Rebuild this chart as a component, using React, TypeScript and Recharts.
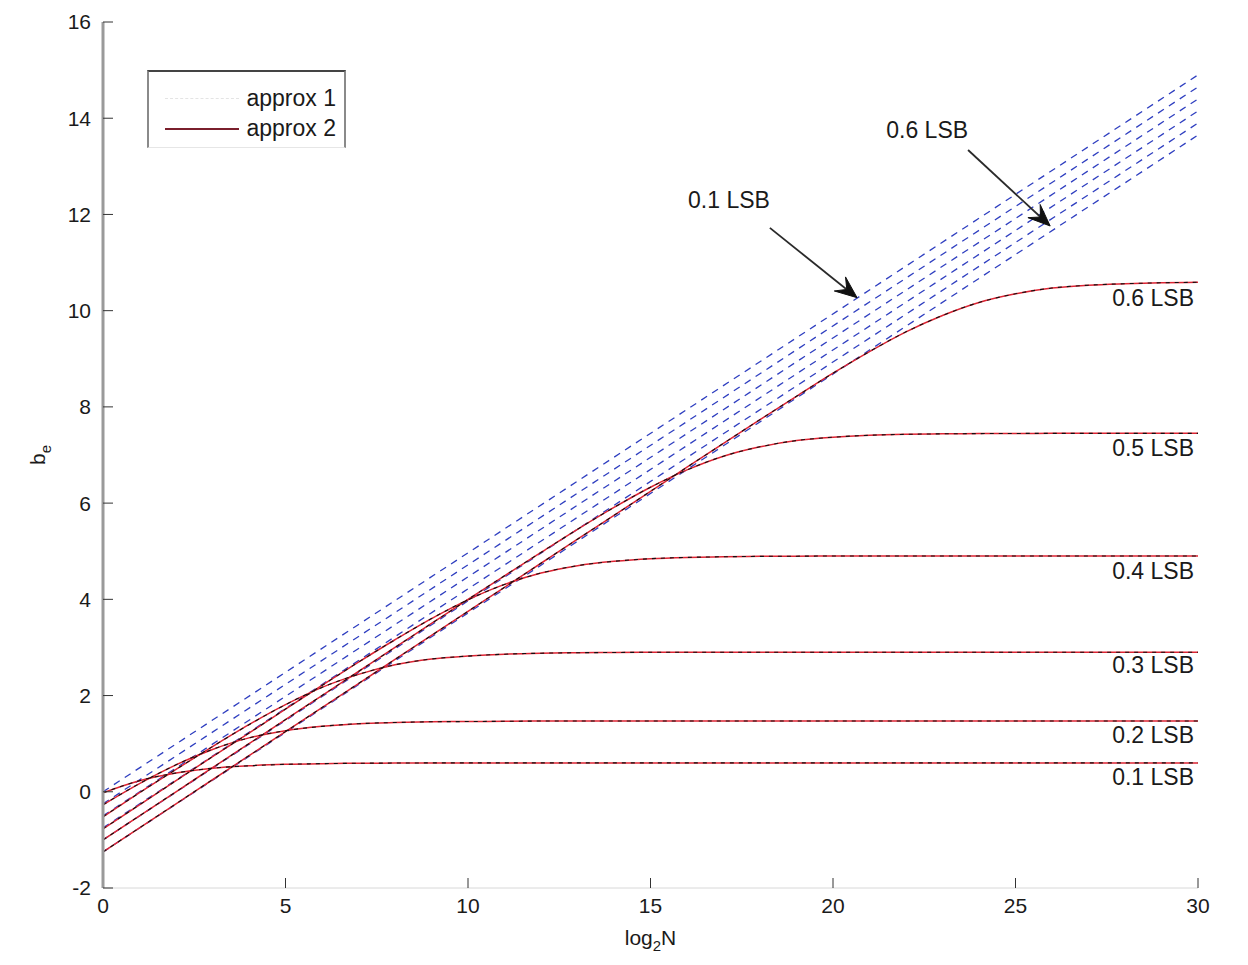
import React from 'react';
import { LineChart, Line, XAxis, YAxis, ReferenceDot, ReferenceLine, Legend } from 'recharts';

const FONT = '"Liberation Sans", Arial, Helvetica, sans-serif';

// log2 N sample points
const xValues = [0, 1, 2, 3, 4, 5, 6, 7, 8, 9, 10, 11, 12, 13, 14, 15, 16, 17, 18, 19, 20, 21, 22, 23, 24, 25, 26, 27, 28, 29, 30];

// b_e curves, one per noise level (0.1 ... 0.6 LSB)
const curve01 = [-0.02, 0.23, 0.39, 0.49, 0.54, 0.57, 0.585, 0.593, 0.597, 0.6, 0.6, 0.6, 0.6, 0.6, 0.6, 0.6, 0.6, 0.6, 0.6, 0.6, 0.6, 0.6, 0.6, 0.6, 0.6, 0.6, 0.6, 0.6, 0.6, 0.6, 0.6];
const curve02 = [-0.27, 0.17, 0.56, 0.88, 1.12, 1.27, 1.36, 1.415, 1.44, 1.455, 1.46, 1.465, 1.47, 1.47, 1.47, 1.47, 1.47, 1.47, 1.47, 1.47, 1.47, 1.47, 1.47, 1.47, 1.47, 1.47, 1.47, 1.47, 1.47, 1.47, 1.47];
const curve03 = [-0.52, -0.02, 0.465, 0.94, 1.395, 1.81, 2.17, 2.44, 2.64, 2.76, 2.82, 2.86, 2.88, 2.89, 2.895, 2.9, 2.9, 2.9, 2.9, 2.9, 2.9, 2.9, 2.9, 2.9, 2.9, 2.9, 2.9, 2.9, 2.9, 2.9, 2.9];
const curve04 = [-0.77, -0.27, 0.23, 0.73, 1.22, 1.72, 2.21, 2.695, 3.16, 3.6, 3.99, 4.31, 4.546, 4.7, 4.79, 4.845, 4.872, 4.885, 4.893, 4.897, 4.9, 4.9, 4.9, 4.9, 4.9, 4.9, 4.9, 4.9, 4.9, 4.9, 4.9];
const curve05 = [-1.0, -0.5, 0.0, 0.5, 1.0, 1.5, 2.0, 2.5, 3.0, 3.498, 3.997, 4.49, 4.975, 5.455, 5.91, 6.33, 6.69, 6.975, 7.17, 7.3, 7.37, 7.41, 7.43, 7.44, 7.445, 7.448, 7.45, 7.45, 7.45, 7.45, 7.45];
const curve06 = [-1.25, -0.75, -0.25, 0.25, 0.75, 1.25, 1.75, 2.25, 2.75, 3.25, 3.75, 4.25, 4.75, 5.25, 5.745, 6.245, 6.746, 7.243, 7.736, 8.22, 8.7, 9.15, 9.56, 9.9, 10.17, 10.35, 10.47, 10.53, 10.56, 10.58, 10.59];

// blue dashed straight lines (values at log2N = 0 and 30)
const blueX = [0, 30];
const blueStart = [0.0, -0.25, -0.5, -0.75, -1.0, -1.25];
const blueEnd = [14.9, 14.65, 14.4, 14.15, 13.9, 13.65];

const sigmaLabels = ['0.1 LSB', '0.2 LSB', '0.3 LSB', '0.4 LSB', '0.5 LSB', '0.6 LSB'];
const rightLabelX = 28.77;
const rightLabelY = [0.31, 1.18, 2.64, 4.59, 7.15, 10.27];

const arrowText = ['0.1 LSB', '0.6 LSB'];
const arrowTextX = [17.15, 22.58];
const arrowTextY = [12.3, 13.76];
const arrowFromX = [18.27, 23.7];
const arrowFromY = [11.72, 13.34];
const arrowToX = [20.66, 25.95];
const arrowToY = [10.27, 11.76];

const xTicks = [0, 5, 10, 15, 20, 25, 30];
const yTicks = [-2, 0, 2, 4, 6, 8, 10, 12, 14, 16];
const legendNames = ['approx 1', 'approx 2'];

const curves = [curve01, curve02, curve03, curve04, curve05, curve06];
const curveData = curves.map((c) => xValues.map((x, j) => ({ x, y: c[j] })));
const blueData = blueStart.map((s, i) => [
  { x: blueX[0], y: s },
  { x: blueX[1], y: blueEnd[i] },
]);

const RED = '#de2433';
const BLUE = '#2f3fc0';
const TEXT = '#1a1a1a';

const Arrow = (props: any) => {
  const { x1, y1, x2, y2 } = props;
  if ([x1, y1, x2, y2].some((v) => typeof v !== 'number' || isNaN(v))) return null;
  const dx = x2 - x1;
  const dy = y2 - y1;
  const len = Math.sqrt(dx * dx + dy * dy) || 1;
  const ux = dx / len;
  const uy = dy / len;
  const px = -uy;
  const py = ux;
  const L = 22;
  const W = 9;
  const bx = x2 - ux * L;
  const by = y2 - uy * L;
  const nx = x2 - ux * L * 0.6;
  const ny = y2 - uy * L * 0.6;
  const pts = `${x2},${y2} ${bx + px * W},${by + py * W} ${nx},${ny} ${bx - px * W},${by - py * W}`;
  return (
    <g>
      <line x1={x1} y1={y1} x2={nx} y2={ny} stroke="#2a2a2a" strokeWidth={1.8} />
      <polygon points={pts} fill="#111" stroke="#111" strokeWidth={1} />
    </g>
  );
};

const LegendBox = () => (
  <div
    style={{
      width: 199,
      height: 78,
      boxSizing: 'border-box',
      borderTop: '2px solid #444',
      borderLeft: '2px solid #8a8a8a',
      borderRight: '2px solid #8a8a8a',
      borderBottom: '1px solid #e6e6e6',
      background: '#fff',
      position: 'relative',
      fontFamily: FONT,
      fontSize: 23,
      color: TEXT,
    }}
  >
    <div style={{ position: 'absolute', left: 16, top: 26, width: 74, borderTop: '1px dashed #e4e4e4' }} />
    <div style={{ position: 'absolute', right: 8, top: 13, lineHeight: '26px' }}>{legendNames[0]}</div>
    <div style={{ position: 'absolute', left: 16, top: 56, width: 74, borderTop: '2px solid #7a1f2c' }} />
    <div style={{ position: 'absolute', right: 8, top: 43, lineHeight: '26px' }}>{legendNames[1]}</div>
  </div>
);

const YLabel = (props: any) => {
  const vb = props.viewBox || {};
  const cx = (vb.x ?? 35) + 2;
  const cy = (vb.y ?? 14) + (vb.height ?? 866) / 2;
  return (
    <text
      x={cx}
      y={cy}
      transform={`rotate(-90 ${cx} ${cy})`}
      textAnchor="middle"
      fontFamily={FONT}
      fontSize={21}
      fill={TEXT}
    >
      b<tspan dy={6} fontSize={15}>e</tspan>
    </text>
  );
};

const XLabel = (props: any) => {
  const vb = props.viewBox || {};
  const cx = (vb.x ?? 95) + (vb.width ?? 1095) / 2;
  const cy = (vb.y ?? 880) + 57;
  return (
    <text x={cx} y={cy} textAnchor="middle" fontFamily={FONT} fontSize={21} fill={TEXT}>
      log<tspan dy={6} fontSize={15}>2</tspan>
      <tspan dy={-6}>N</tspan>
    </text>
  );
};

export default function App() {
  const tickStyle = { fontFamily: FONT, fontSize: 21, fill: TEXT };
  const labelText = (t: string) => (p: any) => (
    <text x={p.cx} y={p.cy} textAnchor="middle" dominantBaseline="central" fontFamily={FONT} fontSize={23} fill={TEXT}>
      {t}
    </text>
  );
  return (
    <div style={{ width: 1232, height: 952, background: '#fff' }}>
      <LineChart width={1232} height={952} margin={{ top: 14, right: 42, bottom: 0, left: 35 }}>
        <XAxis
          xAxisId="b"
          dataKey="x"
          type="number"
          domain={[0, 30]}
          ticks={xTicks}
          orientation="bottom"
          height={72}
          tickSize={-10}
          tickMargin={20}
          axisLine={{ stroke: '#d8d8d8', strokeWidth: 1 }}
          tickLine={{ stroke: '#333' }}
          tick={tickStyle}
          allowDataOverflow
          label={<XLabel />}
        />
        <XAxis
          xAxisId="t"
          dataKey="x"
          type="number"
          domain={[0, 30]}
          ticks={xTicks}
          orientation="top"
          height={0}
          tickSize={-10}
          tick={false}
          axisLine={{ stroke: '#cfcfcf', strokeWidth: 1 }}
          tickLine={{ stroke: '#333' }}
        />
        <YAxis
          yAxisId="l"
          type="number"
          domain={[-2, 16]}
          ticks={yTicks}
          orientation="left"
          width={60}
          tickSize={-10}
          tickMargin={22}
          axisLine={{ stroke: '#9a9a9a', strokeWidth: 3 }}
          tickLine={{ stroke: '#333' }}
          tick={tickStyle}
          allowDataOverflow
          label={<YLabel />}
        />
        <YAxis
          yAxisId="r"
          type="number"
          domain={[-2, 16]}
          ticks={yTicks}
          orientation="right"
          width={0}
          tickSize={-10}
          tick={false}
          axisLine={{ stroke: '#9a9a9a', strokeWidth: 3 }}
          tickLine={{ stroke: '#333' }}
        />
        <Legend
          layout="vertical"
          align="center"
          verticalAlign="middle"
          wrapperStyle={{ position: 'absolute', left: 139, top: 62, width: 199, height: 78 }}
          content={() => <LegendBox />}
        />
        {blueData.map((d, i) => (
          <Line
            key={`blue${i}`}
            xAxisId="b"
            yAxisId="l"
            data={d}
            dataKey="y"
            type="linear"
            stroke={BLUE}
            strokeWidth={1.3}
            strokeDasharray="7 6"
            dot={false}
            activeDot={false}
            isAnimationActive={false}
          />
        ))}
        {curveData.map((d, i) => (
          <Line
            key={`red${i}`}
            xAxisId="b"
            yAxisId="l"
            data={d}
            dataKey="y"
            type="monotone"
            stroke={RED}
            strokeWidth={1.5}
            dot={false}
            activeDot={false}
            isAnimationActive={false}
          />
        ))}
        {curveData.map((d, i) => (
          <Line
            key={`blk${i}`}
            xAxisId="b"
            yAxisId="l"
            data={d}
            dataKey="y"
            type="monotone"
            stroke="#111"
            strokeWidth={1.1}
            strokeDasharray="4 5"
            dot={false}
            activeDot={false}
            isAnimationActive={false}
          />
        ))}
        {arrowText.map((t, i) => (
          <ReferenceLine
            key={`arr${i}`}
            xAxisId="b"
            yAxisId="l"
            segment={[
              { x: arrowFromX[i], y: arrowFromY[i] },
              { x: arrowToX[i], y: arrowToY[i] },
            ]}
            shape={(p: any) => <Arrow {...p} />}
          />
        ))}
        {arrowText.map((t, i) => (
          <ReferenceDot
            key={`at${i}`}
            xAxisId="b"
            yAxisId="l"
            x={arrowTextX[i]}
            y={arrowTextY[i]}
            r={0}
            shape={labelText(t)}
          />
        ))}
        {sigmaLabels.map((t, i) => (
          <ReferenceDot
            key={`rl${i}`}
            xAxisId="b"
            yAxisId="l"
            x={rightLabelX}
            y={rightLabelY[i]}
            r={0}
            shape={labelText(t)}
          />
        ))}
      </LineChart>
    </div>
  );
}
